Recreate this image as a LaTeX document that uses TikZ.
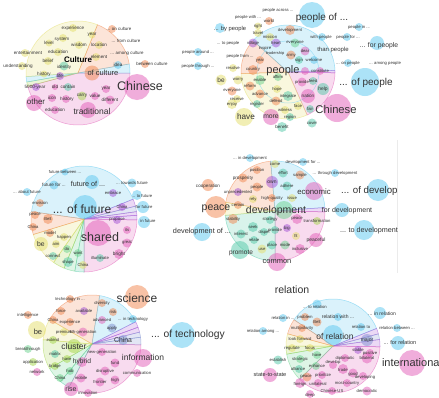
\documentclass[tikz,border=0pt]{standalone}
\usepackage{fontspec}
\setmainfont{Liberation Sans}
\definecolor{cy}{HTML}{5BC8F0}
\definecolor{pk}{HTML}{E35DB8}
\definecolor{or}{HTML}{F2874F}
\definecolor{ye}{HTML}{E5DF6A}
\definecolor{gr}{HTML}{6BD38E}
\definecolor{tl}{HTML}{52C9A8}
\definecolor{pu}{HTML}{A452D6}
\definecolor{li}{HTML}{A5D64A}
\definecolor{bl}{HTML}{7E8FD0}
\definecolor{txc}{HTML}{333333}
\newcommand\dd{...}
\tikzset{wd/.style={text=txc, inner sep=0pt}}
\newcommand\sect[6]{\filldraw[fill=#6, draw=#6, fill opacity=.22, draw opacity=.55, line width=.5pt] (#1,#2) -- plot[domain=#4:#5, samples=40, variable=\ang] ({#1+#3*cos(\ang)},{#2+#3*sin(\ang)}) -- cycle;}
\newcommand\bubs[1]{\foreach \bx/\by/\br/\bc in {#1} {\fill[fill=\bc, fill opacity=.5] (\bx,\by) circle[radius=\br pt];}}
\newcommand\words[2]{\foreach \wx/\wy/\wt/\wz [count=\wi] in {#2} {\node[wd, font=\fontsize{\wz}{\wz}\selectfont] (#1\wi) at (\wx,\wy) {\wt};}}
\begin{document}
\begin{tikzpicture}[x=1pt,y=-1pt]
\useasboundingbox (0,0) rectangle (439,397);
\fill[white] (0,0) rectangle (439,397);
\clip (0,0) rectangle (439,397);
% ---------------- cluster 1: culture
\sect{78}{73}{52}{0}{165}{pk}
\sect{78}{73}{52}{165}{170}{li}
\sect{78}{73}{52}{170}{176}{cy}
\sect{78}{73}{52}{176}{292}{ye}
\sect{78}{73}{52}{292}{350}{or}
\sect{78}{73}{52}{350}{360}{cy}
\bubs{92/73/7.5/or, 137/87/13/pk, 88/110/8/pk, 34/103/8/pk, 73/28/4/ye, 92/35/3.5/ye, 63/38/4/ye, 49/43/3.5/ye, 79/45/4/ye, 99/45/4/ye, 25/53/4/ye, 58/52/4/ye, 96/57/4/ye, 48/61/4/ye, 64/66/4.5/tl, 22/66/4/ye, 44/74/3.5/ye, 60/76/4/pu, 118/65/4/cy, 36/87/4/pu, 55/87/3/pk, 68/87/4/tl, 82/96/4.5/li, 95/96/4/pk, 106/89/4/pk, 110/100/4.5/pk, 52/98/4/pk, 66/99/4/pk, 55/110/4/pk, 112/29/4/or, 145/64/4/or}
\words{ca}{73/28/experience/4.6, 92/35/year/4.6, 62/39/system/4.6, 49/43/level/4.6, 79/45/wisdom/4.6, 99/45/location/4.6, 28/53/entertainment/4.6, 58/52/education/4.6, 99/57/element/4.6, 48/61/belief/4.6, 64/67/identity/4.4, 18/66/understanding/4.6, 44/74/history/4.6, 60/76/life/4.6, 118/65/idea/4.6, 35/87/5000-year/4.6, 55/87/old/4.6, 68/87/contain/4.6, 82/96/carry/4.6, 95/96/value/4.6, 106/89/year/4.6, 110/100/different/4.6, 52/98/icon/4.6, 67/99/history/4.6, 55/110/education/4.6, 119/29/\dd{} on culture/4.4, 126/41/\dd{} from culture/4.4, 127/53/\dd{} among culture/4.4, 152/64/between culture/4.4, 103/73/of culture/7.5, 140/86/Chinese/12.5, 92/111/traditional/8.5, 36/102/other/8}
\node[wd, font=\fontsize{8}{8}\selectfont\bfseries, text=black] (culture) at (78,60) {Culture};
% ---------------- cluster 2: people
\sect{288}{72}{47}{1}{66}{pk}
\sect{288}{72}{47}{66}{178}{ye}
\sect{288}{72}{47}{178}{222}{or}
\sect{288}{72}{47}{222}{358}{cy}
\sect{288}{72}{47}{358}{361}{pu}
\draw[cy, opacity=.45, line width=.5pt] (288,72) circle[radius=31pt];
\bubs{312/15/13/cy, 365/82/14/cy, 337/108/14/pk, 244/117/9/ye, 271/117/8/pk, 282/127/5/tl, 221/80/5.5/ye, 377/43/7/cy, 348/63/4/cy, 359/27/4/cy, 220/28/5/cy, 198/52/4/cy, 198/66/4/cy, 269/21/4/or, 258/26/3.5/ye, 258/33/4/ye, 290/30/5/or, 270/37/4/ye, 253/43/4.5/pu, 276/43/4.5/pu, 295/43/4.5/gr, 291/55/4.5/or, 305/51/4.5/pk, 299/60/4/tl, 314/60/4/cy, 260/60/4/or, 253/70/5/or, 233/68/4/ye, 238/80/4.5/ye, 260/80/5/gr, 278/77/4/gr, 232/91/4.5/or, 250/86/4.5/or, 277/89/4/ye, 260/94/4.5/or, 237/99/4/ye, 232/104/5/ye, 257/104/4/tl, 288/96/5/tl, 276/101/4.5/or, 285/110/4/ye, 298/106/4/ye, 310/109/4/tl, 290/117/4/tl, 312/123/4.5/tl, 308/96/7/pk, 323/89/6/tl, 313/81/4/tl, 302/82/4.5/pk, 320/71/4/pk, 305/71/4/pk, 347/37/4/cy, 322/37/4/cy}
\words{pa}{278/10/people across \dd/4.2, 248/17/people with \dd/4.2, 269/21/world/4.2, 230/29/\dd{} by people/5.8, 258/26/right/4.2, 258/33/travel/4.2, 290/30/development/4.2, 270/37/mission/4.2, 228/43/\dd{} to people/4.2, 198/52/people around \dd/4.2, 240/56/people from \dd/4.2, 198/66/people through \dd/4.2, 253/43/village/4.2, 265/48/inspire/4.2, 295/43/everyone/4.2, 276/43/heart/4.2, 275/53/leadership/4, 291/56/army/4.2, 305/51/dear/4.2, 299/60/sign/4.2, 314/60/welcome/4.2, 260/61/year/4.2, 253/70/country/4.2, 233/68/resolve/4.2, 238/80/worry/4.2, 260/80/enable/4.2, 278/77/affirm/4.2, 232/91/everyone/4.2, 250/86/reform/4.2, 277/89/hope/4.2, 260/94/advance/4.2, 237/99/receive/4.2, 232/104/enjoy/4.2, 257/104/register/4.2, 288/96/integrate/4.2, 276/101/defend/4.2, 285/110/witness/4.2, 298/106/face/4.2, 310/109/fair/4.2, 290/117/region/4.2, 312/123/cover/4.2, 308/96/nation/4.6, 323/89/help/5, 313/81/feed/4.2, 302/82/provide/4.2, 320/71/constitute/4.2, 385/63/\dd{} among people/4.2, 348/63/\dd{} on people/4.2, 359/27/people in \dd/4.2, 348/37/people for \dd/4.2, 321/37/with people/4.2, 333/50/than people/6, 379/46/\dd{} for people/6.8, 282/127/benefit/4.4, 221/80/be/6.5, 246/117/have/8.2, 271/117/more/6.8, 322/18/people of \dd/10, 283/71/people/11, 366/83/\dd{} of people/10, 336/109/Chinese/11.2}
% ---------------- cluster 3: future
\sect{84}{219}{53}{188}{338}{cy}
\sect{84}{219}{53}{338}{346}{pu}
\sect{84}{219}{53}{346}{352}{bl}
\sect{84}{219}{53}{352}{356}{pu}
\sect{84}{219}{53}{356}{361}{pu}
\sect{84}{219}{53}{1}{90}{pk}
\sect{84}{219}{53}{90}{100}{tl}
\sect{84}{219}{53}{100}{112}{gr}
\sect{84}{219}{53}{112}{125}{li}
\sect{84}{219}{53}{125}{163}{ye}
\sect{84}{219}{53}{163}{188}{or}
\bubs{85/207/12/cy, 98/233/13/pk, 92/182/7/cy, 54/185/4.5/cy, 65/172/3.5/cy, 132/183/4.5/cy, 137/195/5/cy, 27/192/4/cy, 113/193/4/pu, 122/207/4/pu, 143/207/6/cy, 144/222/6/cy, 117/220/4/pu, 127/230/4/pk, 127/243/4.5/pk, 119/254/5/pk, 100/258/4/tl, 40/203/4/or, 35/215/4/or, 48/219/5/or, 33/227/4/or, 50/233/4/or, 41/244/7/ye, 56/244/4/ye, 64/237/4/ye, 67/249/4/gr, 78/253/4/gr, 53/256/4/tl, 68/262/5/tl, 83/265/4/ye}
\words{fa}{65/172/future between \dd/4.2, 54/185/future for \dd/4.6, 132/183/\dd{} towards future/4.2, 142/196/\dd{} to future/4.2, 27/192/\dd{} about future/4.2, 113/193/embrace/4.2, 122/207/China/4.2, 144/207/for future/4.2, 148/221/in future/4.2, 117/220/propose/4.2, 127/230/its/4.2, 127/243/great/4.2, 119/254/bright/4.8, 100/258/illuminate/4.2, 40/203/envision/4.2, 35/215/peace/4.2, 48/219/Belt/4.2, 33/227/China/4.2, 50/233/model/4.2, 56/244/aim/4.2, 64/237/happen/4.2, 67/249/do/4.2, 78/253/want/4.2, 53/256/connect/4.2, 68/262/shape/4.2, 83/265/China/4.2, 41/244/be/6.8, 88/184/future of \dd/7.2, 82/209/\dd{} of future/12, 100/237/shared/12.5}
% ---------------- cluster 4: development
\draw[black!8, line width=.6pt] (397.5,140) -- (397.5,273);
\begin{scope}
\clip (150,135) rectangle (397,280);
\sect{275}{211}{50}{190}{265}{or}
\sect{275}{211}{50}{265}{356}{cy}
\sect{275}{211}{50}{356}{361}{pu}
\sect{275}{211}{50}{1}{90}{pk}
\sect{275}{211}{50}{90}{175}{tl}
\sect{275}{211}{50}{175}{190}{ye}
\bubs{284/210/9/gr, 216/207/11/or, 378/190/11/cy, 314/191/9/pk, 342/210/7/cy, 364/230/10/cy, 202/232/9/cy, 208/185/6/or, 250/158/4/cy, 303/162/4/cy, 335/173/4/cy, 275/164/4/ye, 283/173/4.5/tl, 300/175/4.5/or, 243/178/4.5/or, 257/170/4/or, 272/182/6/pu, 287/186/4.5/tl, 257/187/4.5/or, 238/192/4/pu, 253/199/4/ye, 272/198/4/or, 292/198/4/ye, 238/205/4/or, 233/219/5/or, 270/220/4/tl, 253/227/5/tl, 297/219/5/pk, 317/221/4/li, 241/234/4.5/tl, 264/232/4/tl, 275/230/4/tl, 287/228/4/pu, 254/240/4/tl, 296/236/4/ye, 316/240/7/pk, 272/245/4.5/tl, 285/245/4.5/gr, 300/249/5/pk, 262/249/4.5/ye, 240/250/9/tl, 277/262/9/pk}
\words{da}{250/158/\dd{} in development/4.2, 303/162/development for \dd/4.2, 335/173/\dd{} through development/4.2, 275/164/come/4.2, 283/173/effort/4.2, 300/175/sample/4.2, 243/178/prosperity/4.6, 257/170/position/4.2, 272/182/own/5, 287/186/adhere/4.2, 257/187/people/4.2, 238/192/unprecedented/4.2, 253/199/rely/4.2, 272/198/high-quality/4.2, 292/198/issue/4.2, 238/205/certain/4.2, 233/219/stability/4.2, 270/220/strategy/4.2, 253/227/seek/4.2, 297/219/peace/4.2, 317/221/transformation/4.2, 241/234/interest/4.2, 264/232/dispel/4.2, 275/230/provide/4.2, 287/228/big/4.2, 254/240/relate/4.2, 296/236/fit/4.2, 316/240/peaceful/5, 272/245/place/4.2, 285/245/mode/4.2, 300/249/inclusive/4.2, 262/249/use/4.2, 208/186/cooperation/4.6, 241/253/promote/6.5, 277/262/common/7.5, 314/192/economic/7.8, 347/211/for development/7, 369/231/\dd{} to development/7.2, 202/232/development of \dd/7.3, 216/209/peace/10.5, 276/211/development/10.5}
\node[wd, font=\fontsize{9.7}{9.7}\selectfont, anchor=west] (dofd) at (341,191) {... of development};
\end{scope}
% ---------------- cluster 5: technology
\sect{92}{344}{49}{210}{279}{or}
\sect{92}{344}{49}{279}{333}{cy}
\sect{92}{344}{49}{333}{340}{pu}
\sect{92}{344}{49}{340}{346}{pu}
\sect{92}{344}{49}{346}{352}{bl}
\sect{92}{344}{49}{352}{361}{bl}
\sect{92}{344}{49}{1}{118}{pk}
\sect{92}{344}{49}{118}{130}{tl}
\sect{92}{344}{49}{130}{150}{gr}
\sect{92}{344}{49}{150}{185}{li}
\sect{92}{344}{49}{185}{210}{ye}
\bubs{137/297/12/or, 182/335/13/cy, 143/358/9/pk, 37/330/9/ye, 74/346/7/li, 123/340/5/bl, 82/362/5/pk, 71/389/7/pk, 70/299/4/or, 102/303/4/or, 28/315/4/or, 61/311/4/or, 84/311/4/pu, 113/312/4/or, 53/320/4/or, 70/322/4/or, 102/320/4/pk, 133/319/4/cy, 64/332/4/ye, 83/332/4.5/pk, 112/328/4.5/bl, 53/340/4/li, 28/349/4/gr, 102/352/4/pk, 55/354/4/tl, 33/362/4/li, 67/359/4/li, 115/363/4.5/pk, 55/366/4/li, 70/371/4/gr, 105/371/4.5/pk, 37/372/4/pk, 137/373/4/pk, 60/378/4/gr, 81/378/4.5/pk, 115/380/4.5/pk, 100/382/4.5/pk, 88/393/4/pk}
\words{ta}{70/299/technology in \dd/4.2, 102/303/diversity/4.2, 28/315/intelligence/4.2, 61/311/force/4.2, 84/311/available/4.2, 113/312/risk/4.2, 53/320/China/4.2, 70/322/experience/4.2, 102/320/advanced/4.2, 133/319/\dd{} in technology/4.2, 64/332/premium/4.2, 83/332/4th-generation/4.2, 112/328/apply/4.2, 53/340/extend/4.2, 28/349/breakthrough/4.2, 102/352/new-generation/4.2, 55/354/matrix/4.2, 33/362/application/4.2, 67/359/have/4.2, 115/363/fund/4.2, 55/366/bridge/4.2, 70/371/hub/4.2, 105/371/disruptive/4.2, 37/372/network/4.2, 137/373/communication/4.2, 60/378/China/4.2, 81/378/mobile/4.2, 115/380/high/4.2, 100/382/frontier/4.2, 88/393/innovation/4.2, 123/340/China/6.8, 82/362/hybrid/6.7, 71/389/rise/7, 38/332/be/7.5, 74/346/cluster/8.5, 143/357/information/8.5, 137/298/science/12, 188/335/\dd{} of technology/10.3}
% ---------------- cluster 6: relation
\sect{333}{346}{47}{214}{338}{cy}
\sect{333}{346}{47}{338}{345}{pu}
\sect{333}{346}{47}{345}{352}{bl}
\sect{333}{346}{47}{352}{361}{pu}
\sect{333}{346}{47}{1}{135}{pk}
\sect{333}{346}{47}{135}{170}{gr}
\sect{333}{346}{47}{170}{180}{li}
\sect{333}{346}{47}{180}{195}{ye}
\sect{333}{346}{47}{195}{214}{or}
\bubs{333/335/10/cy, 412/363/13/pk, 270/375/7/pk, 317/304/4.5/cy, 283/318/4/cy, 263/331/4/cy, 305/317/4/or, 317/322/4.5/or, 338/317/4/cy, 380/313/6/cy, 361/327/4/cy, 397/328/4/cy, 302/328/4/or, 300/339/4/ye, 398/343/7/cy, 367/340/6/bl, 292/348/4/ye, 310/348/4/ye, 358/350/4/pu, 370/353/4/pk, 278/360/4.5/tl, 300/359/4/gr, 317/355/4/gr, 345/358/4/pk, 367/358/5.5/pk, 299/369/4/tl, 316/366/4/gr, 333/365/4/pk, 343/369/5/pk, 353/373/4.5/pk, 363/376/4/pk, 307/377/4.5/or, 322/375/4/pk, 300/383/5/pk, 318/383/4/pk, 347/383/4/pk, 332/391/4/pk, 367/391/4.5/pk, 310/394/4/pk}
\words{ra}{315/307/\dd{} to relation/4.2, 283/318/relation in \dd/4.2, 263/331/relation among \dd/4.2, 305/317/problem/4.2, 317/322/Belt/4.2, 338/317/relation with \dd/5, 382/314/\dd{} in relation/5, 361/327/relation to/4.2, 397/328/relation between \dd/4.2, 302/328/multipolarity/4.2, 300/339/look forward/4.2, 400/343/\dd{} for relation/5.5, 367/340/major/5, 292/348/regulate/4.2, 310/348/focus/4.2, 358/350/stable/4.2, 370/353/positive/4.2, 278/360/establish/4.2, 300/359/strategic/4.2, 317/355/have/4.2, 345/358/diplomatic/4.2, 367/358/bilateral/4.2, 298/369/alliance/4.2, 317/366/enhance/4.2, 333/362/develop/4.2, 343/370/trade/4.2, 353/374/good/4.2, 365/377/developing/4.2, 306/377/peace/4.2, 323/375/prioritize/4.2, 300/384/foreign/4.2, 318/384/unilateral/4.2, 347/384/most-country/4.2, 332/391/Chinese-US/4.2, 367/391/democratic/4.2, 310/395/deep/4.2, 270/375/state-to-state/5.6, 335/336/of relation/8.5, 412/363/international/11, 292/290/relation/10.5}
\end{tikzpicture}
\end{document}
